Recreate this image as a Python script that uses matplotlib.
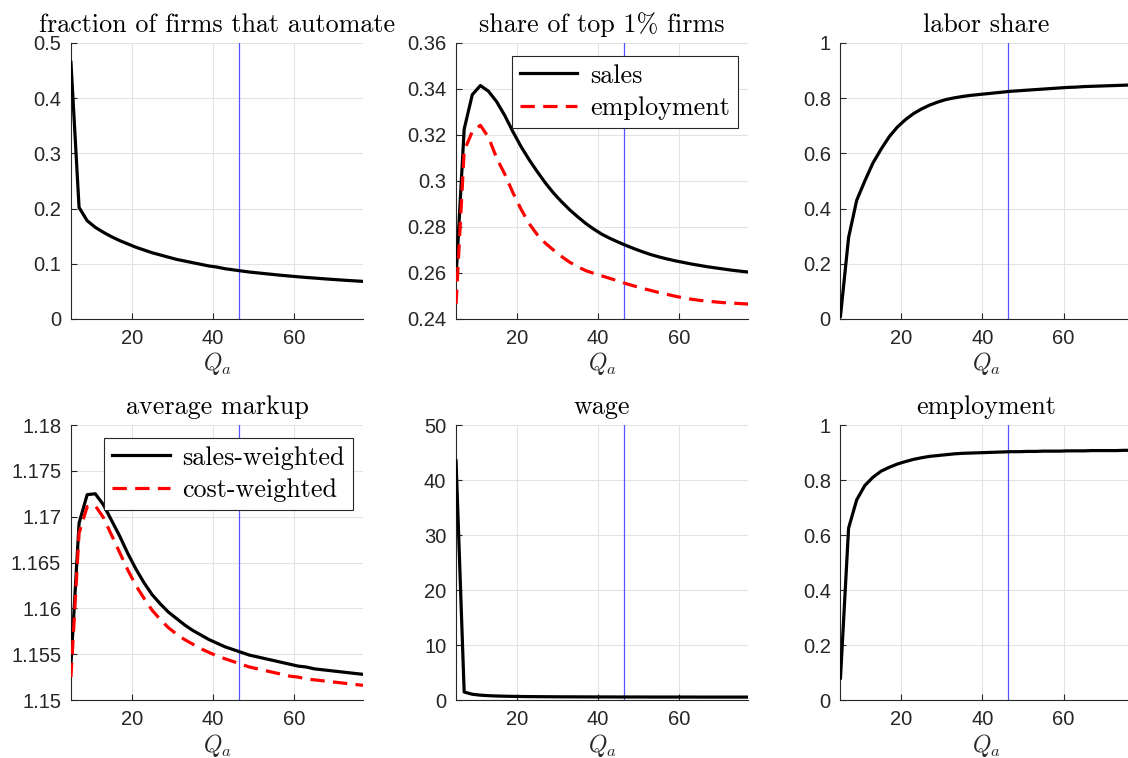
import matplotlib
matplotlib.use('Agg')
import matplotlib.pyplot as plt
from matplotlib.ticker import FuncFormatter

# Q_a grid
qa = [5, 7, 9, 11, 13, 15, 17, 19, 21, 23, 25, 27, 29, 31, 33, 35, 37, 39, 41,
      43, 45, 47, 49, 51, 53, 55, 57, 59, 61, 63, 65, 67, 69, 71, 73, 75, 77]
qa_baseline = 46.4

# fraction of firms that automate
frac_automate = [0.465, 0.202, 0.178, 0.166, 0.157, 0.149, 0.142, 0.136, 0.130, 0.125,
                 0.120, 0.116, 0.112, 0.108, 0.105, 0.102, 0.099, 0.096, 0.094, 0.091,
                 0.089, 0.087, 0.085, 0.0835, 0.082, 0.0805, 0.079, 0.0777, 0.0764, 0.0752,
                 0.0741, 0.0730, 0.0719, 0.0709, 0.0699, 0.0690, 0.0681]

# share of top 1% firms
top1_sales = [0.2583, 0.3225, 0.3375, 0.3415, 0.3390, 0.3345, 0.3285, 0.3215, 0.3150, 0.3093,
              0.3041, 0.2992, 0.2948, 0.2910, 0.2875, 0.2844, 0.2815, 0.2790, 0.2768, 0.2750,
              0.2734, 0.2719, 0.2705, 0.2692, 0.2680, 0.2670, 0.2661, 0.2653, 0.2646, 0.2639,
              0.2633, 0.2627, 0.2622, 0.2617, 0.2612, 0.2608, 0.2604]
top1_emp = [0.2465, 0.3130, 0.3215, 0.3242, 0.3190, 0.3100, 0.3030, 0.2950, 0.2878, 0.2815,
            0.2767, 0.2730, 0.2700, 0.2672, 0.2647, 0.2627, 0.2610, 0.2598, 0.2587, 0.2576,
            0.2565, 0.2553, 0.2543, 0.2533, 0.2524, 0.2515, 0.2507, 0.2499, 0.2492, 0.2486,
            0.2481, 0.2477, 0.2474, 0.2471, 0.2469, 0.2467, 0.2465]

# labor share
labor_share = [0.010, 0.295, 0.430, 0.500, 0.565, 0.615, 0.660, 0.695, 0.722, 0.744,
               0.761, 0.775, 0.786, 0.795, 0.801, 0.806, 0.810, 0.813, 0.816, 0.819,
               0.822, 0.825, 0.827, 0.829, 0.831, 0.833, 0.835, 0.837, 0.839, 0.840,
               0.842, 0.843, 0.844, 0.845, 0.846, 0.847, 0.848]

# average markup
markup_sales = [1.1539, 1.1693, 1.1724, 1.1725, 1.1713, 1.1696, 1.1679, 1.1660, 1.1643, 1.1628,
                1.1615, 1.1605, 1.1596, 1.1589, 1.1582, 1.1576, 1.1571, 1.1566, 1.1562, 1.1558,
                1.1555, 1.1552, 1.1549, 1.1547, 1.1545, 1.1543, 1.1541, 1.1539, 1.1537, 1.1536,
                1.1534, 1.1533, 1.1532, 1.1531, 1.1530, 1.1529, 1.1528]
markup_cost = [1.1525, 1.1682, 1.1711, 1.1712, 1.1699, 1.1680, 1.1661, 1.1642, 1.1625, 1.1611,
               1.1598, 1.1588, 1.1579, 1.1572, 1.1566, 1.1561, 1.1556, 1.1552, 1.1548, 1.1545,
               1.1542, 1.1539, 1.1536, 1.1534, 1.1532, 1.1530, 1.1528, 1.1526, 1.1525, 1.1523,
               1.1522, 1.1521, 1.1520, 1.1519, 1.1518, 1.1517, 1.1516]

# wage
wage = [43.5, 1.45, 1.05, 0.88, 0.79, 0.73, 0.69, 0.66, 0.64, 0.62,
        0.61, 0.60, 0.59, 0.58, 0.58, 0.57, 0.57, 0.56, 0.56, 0.56,
        0.55, 0.55, 0.55, 0.55, 0.54, 0.54, 0.54, 0.54, 0.54, 0.54,
        0.53, 0.53, 0.53, 0.53, 0.53, 0.53, 0.53]

# employment
employment = [0.080, 0.625, 0.728, 0.780, 0.810, 0.832, 0.846, 0.858, 0.867, 0.875,
              0.881, 0.886, 0.889, 0.892, 0.895, 0.897, 0.898, 0.899, 0.900, 0.901,
              0.902, 0.903, 0.903, 0.904, 0.904, 0.905, 0.905, 0.905, 0.906, 0.906,
              0.906, 0.907, 0.907, 0.907, 0.907, 0.908, 0.908]

plt.rcParams['font.family'] = ['Liberation Sans', 'DejaVu Sans']
plt.rcParams['mathtext.fontset'] = 'cm'

TXT = '#262626'
serif = {'family': 'cmr10', 'size': 18.8}
dashes = (0, (4.5, 2.6))

fig = plt.figure(figsize=(11.28, 7.58), dpi=100)

w, h_top, h_bot = 0.2589, 0.3641, 0.3628
lefts = [0.0629, 0.4043, 0.7451]
bottoms = [0.5792, 0.0765]


def style_axes(ax, title, ylim, yticks):
    ax.set_xlim(5, 77)
    ax.set_ylim(*ylim)
    ax.set_xticks([20, 40, 60])
    ax.set_yticks(yticks)
    ax.yaxis.set_major_formatter(FuncFormatter(lambda v, p: '%g' % v))
    ax.grid(True, color='#e3e3e3', linewidth=0.8)
    ax.set_axisbelow(True)
    for s in ['top', 'right']:
        ax.spines[s].set_visible(False)
    for s in ['left', 'bottom']:
        ax.spines[s].set_color(TXT)
        ax.spines[s].set_linewidth(0.8)
    ax.tick_params(direction='in', length=4, width=0.8, colors=TXT, labelsize=14.5, pad=7)
    ax.set_xlabel(r'$Q_a$', fontsize=17, color=TXT, labelpad=2)
    ax.set_title(title, fontdict=serif, pad=8)
    ax.axvline(qa_baseline, color='#5555ff', linewidth=0.9, zorder=1)


def add_legend(ax):
    leg = ax.legend(loc='upper right', prop=serif, fancybox=False, framealpha=1,
                    edgecolor=TXT, handlelength=2.2, borderpad=0.3, labelspacing=0.33,
                    handletextpad=0.5, borderaxespad=0, bbox_to_anchor=(0.966, 0.953))
    leg.get_frame().set_linewidth(0.8)


axes = []
for r in range(2):
    for c in range(3):
        ax = fig.add_axes([lefts[c], bottoms[r], w, h_top if r == 0 else h_bot])
        axes.append(ax)

lw = 2.3

ax = axes[0]
style_axes(ax, 'fraction of firms that automate', (0, 0.5), [0, 0.1, 0.2, 0.3, 0.4, 0.5])
ax.plot(qa, frac_automate, color='black', linewidth=lw, zorder=3)

ax = axes[1]
style_axes(ax, 'share of top 1% firms', (0.24, 0.36), [0.24, 0.26, 0.28, 0.3, 0.32, 0.34, 0.36])
ax.plot(qa, top1_sales, color='black', linewidth=lw, label='sales', zorder=3)
ax.plot(qa, top1_emp, color='red', linewidth=lw, linestyle=dashes, label='employment', zorder=3)
add_legend(ax)

ax = axes[2]
style_axes(ax, 'labor share', (0, 1), [0, 0.2, 0.4, 0.6, 0.8, 1])
ax.plot(qa, labor_share, color='black', linewidth=lw, zorder=3)

ax = axes[3]
style_axes(ax, 'average markup', (1.15, 1.18), [1.15, 1.155, 1.16, 1.165, 1.17, 1.175, 1.18])
ax.plot(qa, markup_sales, color='black', linewidth=lw, label='sales-weighted', zorder=3)
ax.plot(qa, markup_cost, color='red', linewidth=lw, linestyle=dashes, label='cost-weighted', zorder=3)
add_legend(ax)

ax = axes[4]
style_axes(ax, 'wage', (0, 50), [0, 10, 20, 30, 40, 50])
ax.plot(qa, wage, color='black', linewidth=lw, zorder=3)

ax = axes[5]
style_axes(ax, 'employment', (0, 1), [0, 0.2, 0.4, 0.6, 0.8, 1])
ax.plot(qa, employment, color='black', linewidth=lw, zorder=3)

fig.savefig('out.png', dpi=100)
